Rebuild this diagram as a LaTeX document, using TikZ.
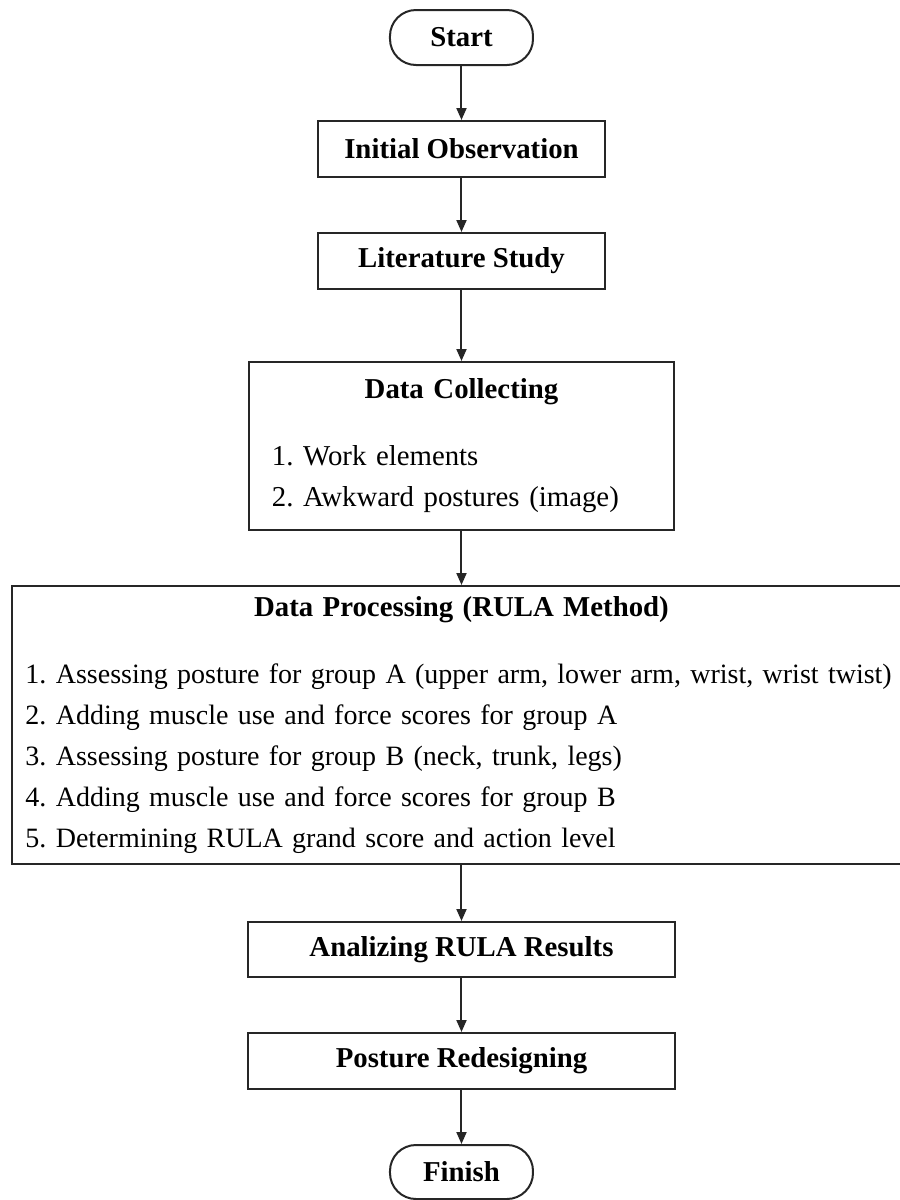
\documentclass[tikz,border=0pt]{standalone}
\usepackage{fontspec}
\setmainfont{Liberation Serif}
\usetikzlibrary{positioning, arrows.meta}
\frenchspacing
\newcommand{\boxfont}{\fontsize{14.4}{20.5}\selectfont}
\newcommand{\listfont}{\fontsize{14}{20.5}\selectfont}
\tikzstyle{term} = [rectangle,draw=black!85,rounded corners=13pt,minimum width=71.5pt,minimum height=27.5pt,font=\boxfont\bfseries]
\tikzstyle{stepbox} = [rectangle,draw=black!85,minimum height=28pt,font=\boxfont\bfseries]
\tikzstyle{listbox} = [rectangle,draw=black!85,align=left,font=\boxfont]

\begin{document}
\begin{tikzpicture}[node distance=27pt, line width=1pt, >={Triangle[length=6pt,width=5pt]}]
		\useasboundingbox (-230.75pt,18.75pt) rectangle (219.25pt,-581.25pt);
		\node [term](s){Start};
		\node [stepbox,below=of s,minimum width=143pt](o){Initial Observation};
		\node [stepbox,below=of o,minimum width=143pt](l){Literature Study};
		\node [listbox,below=35.5pt of l,minimum height=84pt,text width=189.5pt,inner xsep=11.5pt](c){\makebox[\linewidth]{\bfseries Data Collecting}\\[13pt]1. Work elements\\2. Awkward postures (image)};
		\node [listbox,below=of c,minimum height=139pt,text width=436pt,inner xsep=6.75pt,font=\listfont](p){\makebox[\linewidth]{\boxfont\bfseries Data Processing (RULA Method)}\\[13pt]\mbox{1. Assessing posture for group A (upper arm, lower arm, wrist, wrist twist)}\\2. Adding muscle use and force scores for group A\\3. Assessing posture for group B (neck, trunk, legs)\\4. Adding muscle use and force scores for group B\\5. Determining RULA grand score and action level};
		\node [stepbox,below=28pt of p,minimum width=213.5pt,minimum height=27.5pt](a){Analizing RULA Results};
		\node [stepbox,below=of a,minimum width=213.5pt](r){Posture Redesigning};
		\node [term,below=of r,minimum height=27pt](f){Finish};
		
		\draw[->,black!85](s)--(o);
		\draw[->,black!85](o)--(l);
		\draw[->,black!85](l)--(c);
		\draw[->,black!85](c)--(p);
		\draw[->,black!85](p)--(a);
		\draw[->,black!85](a)--(r);
		\draw[->,black!85](r)--(f);
		\end{tikzpicture}
\end{document}
